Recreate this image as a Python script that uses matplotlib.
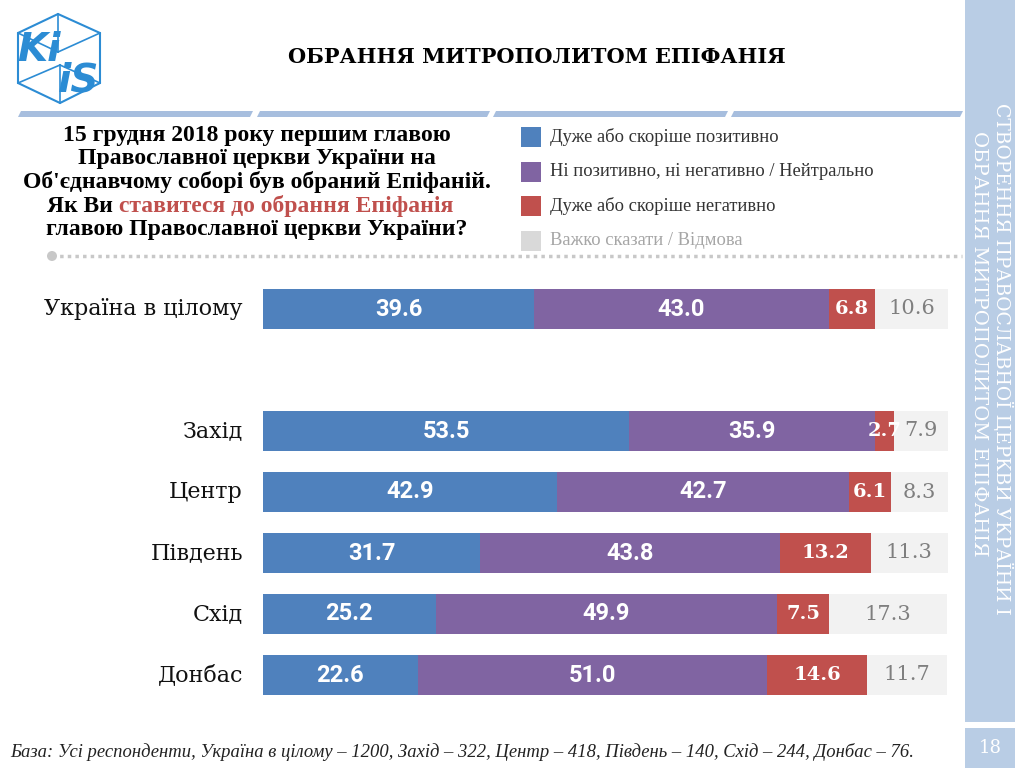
import matplotlib.pyplot as plt
import matplotlib.patches as patches
from matplotlib.lines import Line2D

# data
regions = ['Україна в цілому', 'Захід', 'Центр', 'Південь', 'Схід', 'Донбас']
positive = [39.6, 53.5, 42.9, 31.7, 25.2, 22.6]
neutral = [43.0, 35.9, 42.7, 43.8, 49.9, 51.0]
negative = [6.8, 2.7, 6.1, 13.2, 7.5, 14.6]
hard_to_say = [10.6, 7.9, 8.3, 11.3, 17.3, 11.7]
legend_labels = ['Дуже або скоріше позитивно',
                 'Ні позитивно, ні негативно / Нейтрально',
                 'Дуже або скоріше негативно',
                 'Важко сказати / Відмова']

colors = ['#4F81BD', '#8064A2', '#C0504D', '#F2F2F2']
legend_colors = ['#4F81BD', '#8064A2', '#C0504D', '#D9D9D9']
ypos = [0, 2, 3, 4, 5, 6]

W, H = 1024, 768
fig = plt.figure(figsize=(W / 100, H / 100), dpi=100)


def px(x, y):
    # pixel coords (top-left origin) -> figure fraction
    return x / W, 1 - y / H


# ---- bar chart ----
ax = fig.add_axes([263 / W, 62.5 / H, 685 / W, 427 / H])
series = [positive, neutral, negative, hard_to_say]
left = [0.0] * len(regions)
for i, vals in enumerate(series):
    ax.barh(ypos, vals, left=left, height=0.66, color=colors[i], edgecolor='none')
    for y, l, v in zip(ypos, left, vals):
        cx = l + v / 2
        if i < 2:
            ax.text(cx, y, f'{v:.1f}', ha='center', va='center', color='white',
                    fontsize=17, fontweight='bold', family='Roboto')
        elif i == 2:
            ax.text(cx, y, f'{v:.1f}', ha='center', va='center', color='white',
                    fontsize=14, fontweight='bold', family='DejaVu Serif')
        else:
            ax.text(cx, y, f'{v:.1f}', ha='center', va='center', color='#7F7F7F',
                    fontsize=15, family='DejaVu Serif')
    left = [a + b for a, b in zip(left, vals)]

ax.set_xlim(0, 100)
ax.set_ylim(6.5, -0.5)
ax.axis('off')
for y, name in zip(ypos, regions):
    ax.text(-20 / 6.85, y, name, ha='right', va='center', fontsize=16,
            family='DejaVu Serif', color='#111111')

# ---- title ----
fig.text(*px(537, 57), 'ОБРАННЯ МИТРОПОЛИТОМ ЕПІФАНІЯ', ha='center', va='center',
         fontsize=15, fontweight='bold', family='DejaVu Serif')

# header segments (slanted)
for x0, x1 in [(18, 250), (257, 487), (493, 725), (731, 960)]:
    pts = [px(x0 + 3, 111), px(x1 + 3, 111), px(x1, 117), px(x0, 117)]
    fig.add_artist(patches.Polygon(pts, closed=True, transform=fig.transFigure,
                                   facecolor='#A7BEDE', edgecolor='none'))

# ---- question ----
qfs = 17
q_lines = ['15 грудня 2018 року першим главою',
           'Православної церкви України на',
           "Об'єднавчому соборі був обраний Епіфаній."]
for i, s in enumerate(q_lines):
    fig.text(*px(257, 135 + i * 23.6), s, ha='center', va='center', fontsize=qfs,
             fontweight='bold', family='Liberation Serif')
fig.text(*px(113, 206), 'Як Ви', ha='right', va='center', fontsize=qfs,
         fontweight='bold', family='Liberation Serif')
fig.text(*px(119, 206), 'ставитеся до обрання Епіфанія', ha='left', va='center',
         fontsize=qfs, fontweight='bold', family='Liberation Serif', color='#C0504D')
fig.text(*px(257, 229), 'главою Православної церкви України?', ha='center', va='center',
         fontsize=qfs, fontweight='bold', family='Liberation Serif')

# ---- legend ----
for i, (lab, c) in enumerate(zip(legend_labels, legend_colors)):
    yy = 137 + i * 34.5
    fig.add_artist(patches.Rectangle(px(521, yy + 10), 20 / W, 20 / H,
                                     transform=fig.transFigure, facecolor=c,
                                     edgecolor='none'))
    fig.text(*px(550, yy), lab, ha='left', va='center', fontsize=13.3,
             family='Liberation Serif',
             color='#A6A6A6' if i == 3 else '#333333')

# dotted separator
x0, y0 = px(52, 256)
x1, _ = px(962, 256)
fig.add_artist(Line2D([x0, x1], [y0, y0], transform=fig.transFigure, color='#C8C8C8',
                      linestyle=(0, (1, 1.2)), linewidth=2.5))
fig.add_artist(patches.Ellipse((x0, y0), 10 / W, 10 / H, transform=fig.transFigure,
                               facecolor='#C8C8C8', edgecolor='none'))

# ---- right side band ----
fig.add_artist(patches.Rectangle(px(965, 722), 50 / W, 722 / H, transform=fig.transFigure,
                                 facecolor='#B9CDE5', edgecolor='none'))
fig.add_artist(patches.Rectangle(px(965, 768), 50 / W, 40 / H, transform=fig.transFigure,
                                 facecolor='#B9CDE5', edgecolor='none'))
fig.text(*px(1002, 103), 'СТВОРЕННЯ ПРАВОСЛАВНОЇ ЦЕРКВИ УКРАЇНИ І', rotation=-90,
         ha='center', va='top', fontsize=13.5, family='DejaVu Serif', color='white')
fig.text(*px(979, 131), 'ОБРАННЯ МИТРОПОЛИТОМ ЕПІФАНІЯ', rotation=-90,
         ha='center', va='top', fontsize=14, family='DejaVu Serif', color='white')
fig.text(*px(990, 748), '18', ha='center', va='center', fontsize=13,
         family='DejaVu Serif', color='white')

# ---- footer ----
fig.text(*px(10, 752), 'База: Усі респонденти, Україна в цілому – 1200, Захід – 322, '
         'Центр – 418, Південь – 140, Схід – 244, Донбас – 76.',
         ha='left', va='center', fontsize=13.4, style='italic',
         family='Liberation Serif', color='#222222')

# ---- logo ----
logo_c = '#2C8CD4'
hexagon = [(58, 14), (100, 33), (100, 83), (60, 103), (18, 83), (18, 33)]
fig.add_artist(patches.Polygon([px(*p) for p in hexagon], closed=True,
                               transform=fig.transFigure, fill=False,
                               edgecolor=logo_c, linewidth=1.5))
for a, b in [((58, 52), (58, 14)), ((58, 52), (18, 33)), ((58, 52), (100, 33)),
             ((60, 65), (60, 103)), ((60, 65), (18, 83)), ((60, 65), (100, 83))]:
    pa, pb = px(*a), px(*b)
    fig.add_artist(Line2D([pa[0], pb[0]], [pa[1], pb[1]], transform=fig.transFigure,
                          color=logo_c, linewidth=1.2))
fig.text(*px(39, 50), 'Ki', ha='center', va='center', fontsize=28, fontweight='bold',
         style='italic', color=logo_c, family='Liberation Sans Narrow')
fig.text(*px(78, 80), 'iS', ha='center', va='center', fontsize=28, fontweight='bold',
         style='italic', color=logo_c, family='Liberation Sans Narrow')

fig.savefig('out.png', dpi=100)
